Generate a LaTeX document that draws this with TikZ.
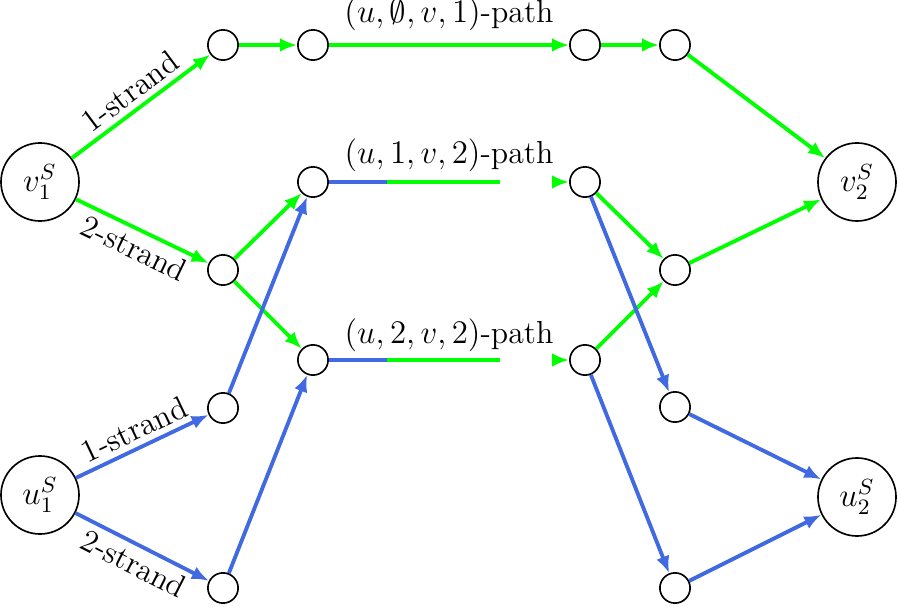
\documentclass[tikz,border=0pt]{standalone}
\usepackage{amssymb, mathtools, amsmath}
\usetikzlibrary{arrows.meta}

\definecolor{pathgreen}{rgb}{0,1,0}
\definecolor{pathblue}{RGB}{65,105,225}

\tikzset{
  every node/.style={font=\fontsize{11.6pt}{14pt}\selectfont},
  bignode/.style={draw, circle, line width=0.6pt, minimum size=28.4pt, inner sep=0pt},
  dotnode/.style={draw, circle, line width=0.6pt, minimum size=11pt, inner sep=0pt},
  greenline/.style={color=pathgreen, line width=1.4pt},
  blueline/.style={color=pathblue, line width=1.4pt},
  tip/.style={-{Latex[length=6.2pt,width=5pt]}},
  strandlabel/.style={text=black, inner sep=2pt},
}

\begin{document}
\begin{tikzpicture}[x=0.364pt,y=0.364pt,yscale=-1]
\useasboundingbox (0,0) rectangle (898,607);

% Big nodes
\node [bignode] (v1) at (40,182) {$v_1^S$};
\node [bignode] (u1) at (40,495) {$u_1^S$};
\node [bignode] (v2) at (857,182) {$v_2^S$};
\node [bignode] (u2) at (857,497) {$u_2^S$};

% Small nodes, top row
\node [dotnode] (t1) at (223,45) {};
\node [dotnode] (t2) at (313,45) {};
\node [dotnode] (t3) at (585,45) {};
\node [dotnode] (t4) at (675,45) {};
% Small nodes, left
\node [dotnode] (a1) at (223,270) {};
\node [dotnode] (a2) at (223,408) {};
\node [dotnode] (a3) at (223,588) {};
\node [dotnode] (b1) at (313,182) {};
\node [dotnode] (b2) at (313,360) {};
% Small nodes, right
\node [dotnode] (c1) at (585,182) {};
\node [dotnode] (c2) at (585,360) {};
\node [dotnode] (d1) at (675,270) {};
\node [dotnode] (d2) at (675,407) {};
\node [dotnode] (d3) at (675,588) {};

% Free ends of the broken paths
\coordinate (p1m) at (387,182);
\coordinate (p1e) at (500,182);
\coordinate (p1s) at (552,182);
\coordinate (p2m) at (387,360);
\coordinate (p2e) at (500,360);
\coordinate (p2s) at (552,360);

% Green strands
\draw [greenline, tip] (v1) -- node [strandlabel, rotate=36.8, above] {1-strand} (t1);
\draw [greenline, tip] (v1) -- node [strandlabel, rotate=-25.7, below] {2-strand} (a1);
\draw [greenline, tip] (t1) -- (t2);
\draw [greenline, tip] (t2) -- node [above, text=black, yshift=1pt] {$(u,\emptyset,v,1)$-path} (t3);
\draw [greenline, tip] (t3) -- (t4);
\draw [greenline, tip] (t4) -- (v2);
\draw [greenline, tip] (a1) -- (b1);
\draw [greenline, tip] (a1) -- (b2);
\draw [greenline, tip] (c1) -- (d1);
\draw [greenline, tip] (c2) -- (d1);
\draw [greenline, tip] (d1) -- (v2);

% Blue strands
\draw [blueline, tip] (u1) -- node [strandlabel, rotate=25.4, above] {1-strand} (a2);
\draw [blueline, tip] (u1) -- node [strandlabel, rotate=-27, below] {2-strand} (a3);
\draw [blueline, tip] (a2) -- (b1);
\draw [blueline, tip] (a3) -- (b2);
\draw [blueline, tip] (c1) -- (d2);
\draw [blueline, tip] (c2) -- (d3);
\draw [blueline, tip] (d2) -- (u2);
\draw [blueline, tip] (d3) -- (u2);

% Broken middle paths
\draw [blueline] (b1) -- (p1m);
\draw [greenline] (p1m) -- (p1e);
\draw [greenline, tip] (p1s) -- (c1);
\draw [blueline] (b2) -- (p2m);
\draw [greenline] (p2m) -- (p2e);
\draw [greenline, tip] (p2s) -- (c2);

% Text Node
\node (lab1) at (449,155) {$(u,1,v,2)$-path};
% Text Node
\node (lab2) at (449,335) {$(u,2,v,2)$-path};

\end{tikzpicture}
\end{document}
